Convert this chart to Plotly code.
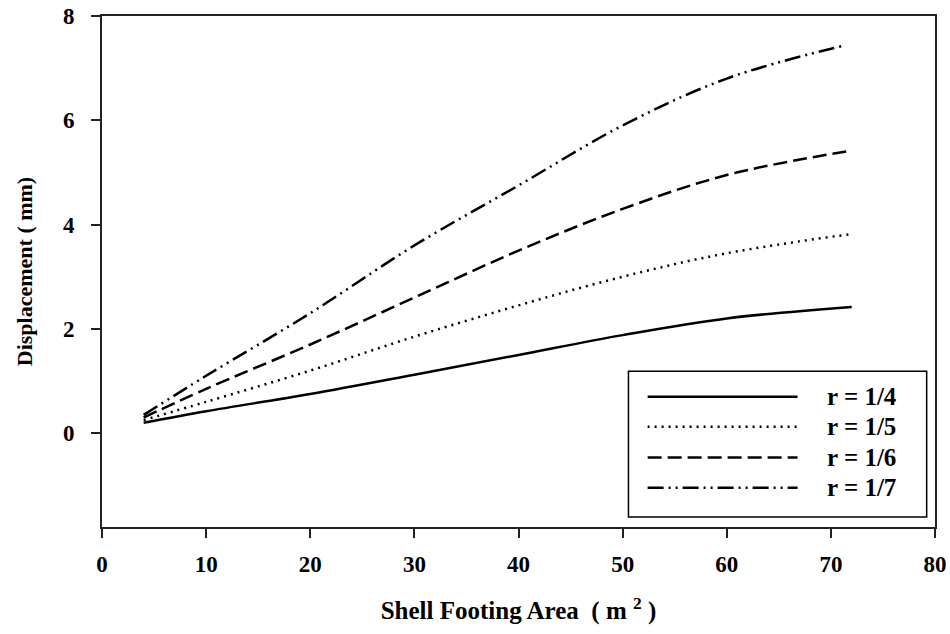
import plotly.graph_objects as go

area = [4, 10, 20, 30, 40, 50, 60, 72]
disp_r4 = [0.20, 0.42, 0.75, 1.12, 1.50, 1.88, 2.20, 2.42]
disp_r5 = [0.25, 0.60, 1.20, 1.85, 2.45, 3.00, 3.45, 3.82]
disp_r6 = [0.30, 0.85, 1.70, 2.60, 3.50, 4.30, 4.95, 5.42]
area_r7 = [4, 10, 20, 30, 40, 50, 60, 71]
disp_r7 = [0.35, 1.10, 2.30, 3.60, 4.75, 5.90, 6.80, 7.42]

labels = ["r = 1/4", "r = 1/5", "r = 1/6", "r = 1/7"]
dashes = ["solid", "2px,5px", "14px,6px", "16px,5px,2px,5px,2px,5px"]
xs = [area, area, area, area_r7]
ys = [disp_r4, disp_r5, disp_r6, disp_r7]
xticks = [0, 10, 20, 30, 40, 50, 60, 70, 80]
yticks = [0, 2, 4, 6, 8]

FONT = "Liberation Serif"
fig = go.Figure()
for x, y, lab, d in zip(xs, ys, labels, dashes):
    fig.add_trace(go.Scatter(x=x, y=y, mode="lines", name=lab,
                             line=dict(color="black", width=2.5, dash=d, shape="spline"),
                             showlegend=False))

# manual legend (box, samples, labels)
lx0, lx1, ly0, ly1 = 0.632, 0.99, 0.0195, 0.305
fig.add_shape(type="rect", xref="paper", yref="paper", x0=lx0, x1=lx1, y0=ly0, y1=ly1,
              line=dict(color="black", width=1.5), fillcolor="white")
rows = [0.255, 0.196, 0.136, 0.077]
for yy, lab, d in zip(rows, labels, dashes):
    fig.add_shape(type="line", xref="paper", yref="paper", x0=0.655, x1=0.835, y0=yy, y1=yy,
                  line=dict(color="black", width=2.5, dash=d))
    fig.add_annotation(xref="paper", yref="paper", x=0.868, y=yy, text="<b>%s</b>" % lab,
                       showarrow=False, xanchor="left", yanchor="middle",
                       font=dict(family=FONT, size=25, color="black"))

fig.update_layout(
    width=950, height=634,
    margin=dict(l=102, r=15, t=16, b=107, autoexpand=False),
    paper_bgcolor="white", plot_bgcolor="white",
    font=dict(family=FONT, size=22, color="black"),
    xaxis=dict(range=[0, 80], tickvals=xticks, automargin=False,
               ticktext=["<b>%d</b>" % v for v in xticks],
               tickfont=dict(family=FONT, size=23, color="black"),
               ticks="outside", ticklen=9, tickwidth=2, tickcolor="#222",
               ticklabelstandoff=6,
               showline=True, linecolor="#222", linewidth=2, mirror=True,
               showgrid=False, zeroline=False,
               title=dict(text="<b>Shell Footing Area  ( m <sup>2</sup> )</b>", standoff=26,
                          font=dict(family=FONT, size=25, color="black"))),
    yaxis=dict(range=[-1.8, 8], tickvals=yticks, automargin=False,
               ticktext=["<b>%d</b>" % v for v in yticks],
               tickfont=dict(family=FONT, size=23, color="black"),
               ticks="outside", ticklen=9, tickwidth=2, tickcolor="#222",
               ticklabelstandoff=12,
               showline=True, linecolor="#222", linewidth=2, mirror=True,
               showgrid=False, zeroline=False,
               title=dict(text="<b>Displacement ( mm)</b>", standoff=24,
                          font=dict(family=FONT, size=22, color="black"))),
)
fig.write_html("out.html")
